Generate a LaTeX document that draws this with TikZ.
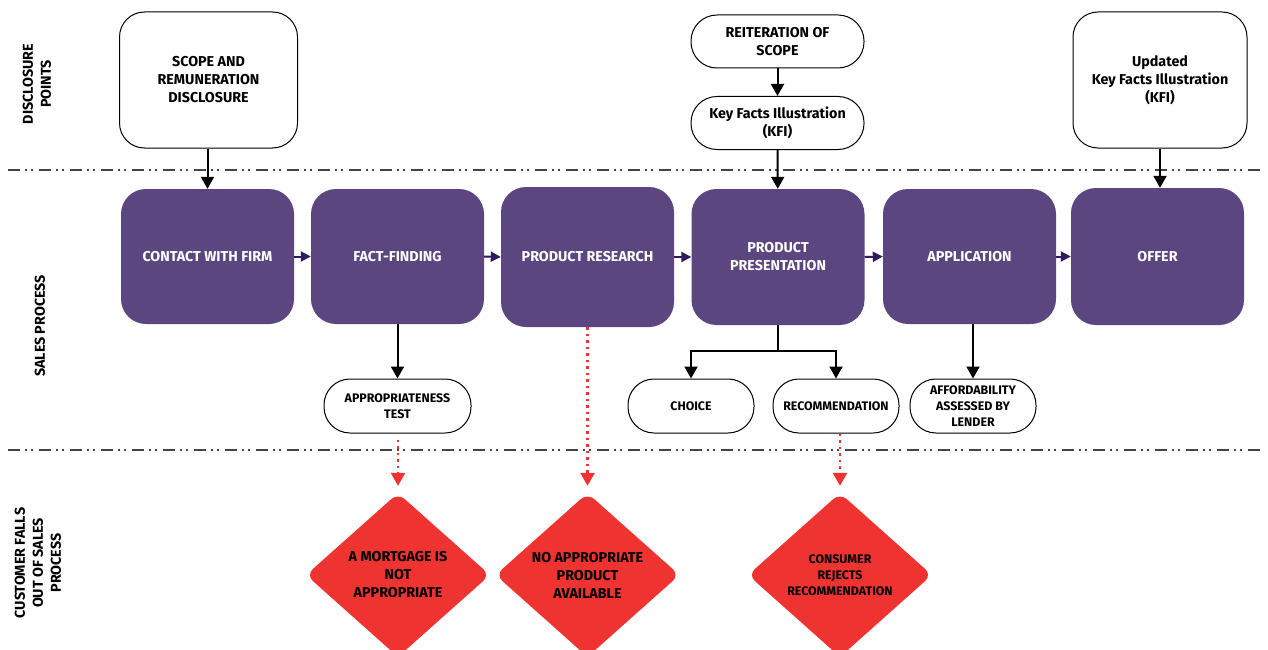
\documentclass[tikz,border=0pt]{standalone}
\usepackage{fontspec}
\setmainfont{Fira Sans}
\usetikzlibrary{arrows.meta,shapes.geometric}
\definecolor{purp}{HTML}{5C4680}
\definecolor{purpdark}{HTML}{2E1A5C}
\definecolor{redbox}{HTML}{EE3331}
\definecolor{sep}{HTML}{444444}
\newcommand\fBig{\fontsize{14.3}{18}\selectfont\bfseries}
\newcommand\fSmall{\fontsize{12.4}{16}\selectfont\bfseries}
\begin{document}
\begin{tikzpicture}[x=1pt,y=-1pt,
  disc/.style={draw=black,line width=1pt,fill=white,rounded corners=25pt,align=center,font=\fBig,inner sep=0pt,minimum width=178pt,minimum height=136pt},
  pill/.style={draw=black,line width=1pt,fill=white,rounded corners=26pt,align=center,font=\fBig,inner sep=0pt,minimum width=173pt,minimum height=53pt},
  spill/.style={draw=black,line width=1pt,fill=white,rounded corners=26pt,align=center,font=\fSmall,inner sep=0pt,minimum width=126pt,minimum height=54pt},
  proc/.style={fill=purp,rounded corners=25pt,align=center,text=white,font=\fBig,inner sep=0pt,minimum width=173pt,minimum height=135pt},
  fall/.style={diamond,fill=redbox,rounded corners=9pt,align=center,inner sep=0pt,minimum width=184pt,minimum height=164pt},
  sidelab/.style={rotate=90,align=center,font=\fBig},
  blk/.style={line width=2pt,-{Triangle[width=13pt,length=12pt]}},
  parr/.style={line width=2pt,draw=purpdark,-{Triangle[width=10pt,length=10pt]}},
  rdot/.style={draw=redbox,line width=2.5pt,dash pattern=on 2.5pt off 4pt,-{Triangle[width=14pt,length=13pt]},shorten >=7pt},
  sepline/.style={draw=sep,line width=2pt,dash pattern=on 12pt off 5pt on 2pt off 4pt on 2pt off 6pt}
]
\useasboundingbox (0,0) rectangle (1268,650);

% separators
\draw[sepline] (8,170) -- (1262,170);
\draw[sepline] (8,450) -- (1262,450);

% side labels
\node[sidelab] (l1) at (37,84) {DISCLOSURE\\POINTS};
\node[sidelab] (l2) at (40,326) {SALES PROCESS};
\node[sidelab] (l3) at (38,563) {CUSTOMER FALLS\\OUT OF SALES\\PROCESS};

% disclosure points
\node[disc] (scope) at (208.5,80) {SCOPE AND\\REMUNERATION\\DISCLOSURE};
\node[pill] (reit) at (777.5,41.5) {REITERATION OF\\SCOPE};
\node[pill] (kfi) at (777.5,123) {Key Facts Illustration\\(KFI)};
\node[disc,minimum width=174pt] (ukfi) at (1160,80) {Updated\\Key Facts Illustration\\(KFI)};

% sales process
\node[proc] (contact) at (207.5,256.5) {CONTACT WITH FIRM};
\node[proc] (fact) at (397.5,256.5) {FACT-FINDING};
\node[proc,minimum height=140pt] (research) at (587.5,257) {PRODUCT RESEARCH};
\node[proc,minimum height=136pt] (present) at (778,257) {PRODUCT\\PRESENTATION};
\node[proc] (appl) at (969.5,256.5) {APPLICATION};
\node[proc,minimum height=137pt] (offer) at (1157.5,256.5) {OFFER};

\draw[parr] (contact.east) -- (fact.west);
\draw[parr] (fact.east) -- (research.west);
\draw[parr] (research.east) -- (present.west);
\draw[parr] (present.east) -- (appl.west);
\draw[parr] (appl.east) -- (offer.west);

% disclosure arrows
\draw[blk] (scope.south -| contact.north) -- (contact.north);
\draw[blk] (reit) -- (kfi);
\draw[blk] (kfi) -- (present);
\draw[blk] (ukfi.south) -- (ukfi.south |- offer.north);

% sub steps
\node[spill,minimum width=147pt] (appr) at (397.5,406) {APPROPRIATENESS\\TEST};
\node[spill] (choice) at (691,406) {CHOICE};
\node[spill] (rec) at (836,406) {RECOMMENDATION};
\node[spill] (afford) at (973,406) {AFFORDABILITY\\ASSESSED BY\\LENDER};

\coordinate (br) at (778,351);
\draw[blk] (fact.south -| appr.north) -- (appr.north);
\draw[line width=2pt] (present.south) -- (br);
\draw[blk] (br) -| (choice.north);
\draw[blk] (br) -| (rec.north);
\draw[blk] (appl.south -| afford.north) -- (afford.north);

% falls out
\node[fall,font=\fBig] (d1) at (398,575) {A MORTGAGE IS\\NOT\\APPROPRIATE};
\node[fall,font=\fBig] (d2) at (587.5,575) {NO APPROPRIATE\\PRODUCT\\AVAILABLE};
\node[fall,font=\fSmall] (d3) at (840,575) {CONSUMER\\REJECTS\\RECOMMENDATION};

\draw[rdot] ([yshift=-6pt]appr.south -| d1.north) -- (d1.north);
\draw[rdot] (research.south -| d2.north) -- (d2.north);
\draw[rdot] (rec.south -| d3.north) -- (d3.north);
\end{tikzpicture}
\end{document}
